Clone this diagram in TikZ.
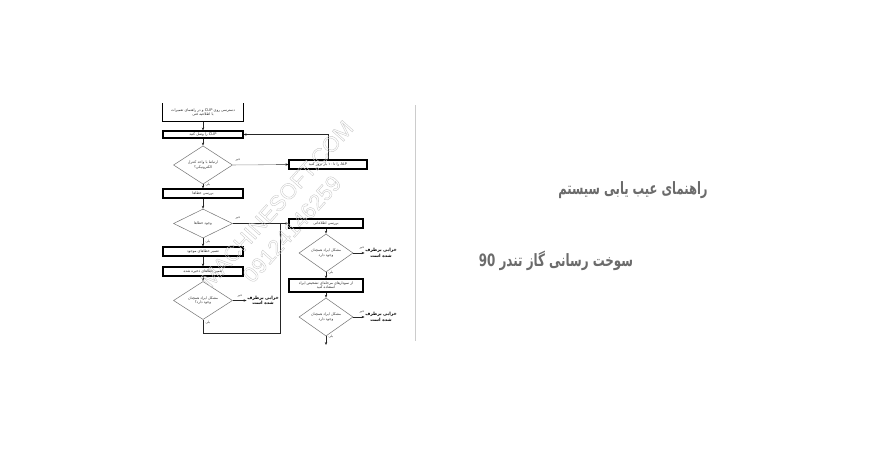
\documentclass[tikz,border=0pt]{standalone}
\usepackage{graphicx}
\usepackage{fontspec}
\setmainfont{Liberation Sans}
\newfontfamily\fa[Script=Arabic]{DejaVu Sans}
\newfontfamily\wm{Liberation Sans}
\TeXXeTstate=1
\usetikzlibrary{arrows.meta,shapes.geometric}
\newcommand{\fat}[1]{{\fa\beginR #1\endR}}
\newcommand{\outl}[1]{\special{pdf:literal direct 1 Tr 0.35 w}#1\special{pdf:literal direct 0 Tr}}
\begin{document}
\begin{tikzpicture}[x=1pt,y=-1pt,
  box/.style={draw=black, line width=1.1pt, fill=white, inner sep=0pt, font=\fa\fontsize{3.6}{4.4}\selectfont, text=black!85, align=center},
  dia/.style={draw=black!55, line width=0.5pt, shape=diamond, inner sep=0pt, fill=white, font=\fa\fontsize{3.6}{4.6}\selectfont, text=black!80, align=center},
  con/.style={draw=black!85, line width=0.55pt},
  arr/.style={con, -{Stealth[length=3pt,width=2.4pt]}},
  lab/.style={font=\fa\fontsize{3.2}{4}\selectfont, text=black!80, inner sep=0.5pt},
  fixed/.style={font=\fa\bfseries\fontsize{4.4}{5.4}\selectfont, align=center, inner sep=0.5pt},
  title/.style={font=\fa\bfseries\fontsize{17}{20}\selectfont, text=black!58, inner sep=0pt},
  wmark/.style={font=\wm\fontsize{22}{22}\selectfont, text=black!22, inner sep=0pt, rotate=48}
]
\useasboundingbox (0,0) rectangle (870,450);
\fill[white] (0,0) rectangle (870,450);

% left column
\node[box, draw=none, fill=none, minimum width=80, minimum height=17] (b1) at (203,112.5) {\fat{دسترسی روی \beginL CLIP\endL{} و در راهنمای تعمیرات}\\\fat{با اطلاعیه فنی}};
\draw[line width=1.1pt] (b1.north west) -- (b1.south west) -- (b1.south east) -- (b1.north east);
\node[box, minimum width=80, minimum height=7] (b2) at (203,134.5) {\fat{\beginL CLIP\endL{} را وصل کنید}};
\node[dia, minimum width=59, minimum height=31] (d1) at (203,165) {\fat{ارتباط با واحد کنترل}\\\fat{الکترونیکی؟}};
\node[box, minimum width=78, minimum height=9] (alp) at (328,164.5) {\fat{\beginL ALP\endL{} را تا ۱۰ بار بروز کنید}};
\node[box, minimum width=80, minimum height=9] (b3) at (203,193.5) {\fat{بررسی خطاها}};
\node[dia, minimum width=59, minimum height=29] (d2) at (203,223.5) {\fat{وجود خطاها}};
\node[box, minimum width=74, minimum height=9] (r1) at (326,223.5) {\fat{بررسی اطلاعاتی}};
\node[box, minimum width=80, minimum height=9] (b4) at (203,251.5) {\fat{تعمیر خطاهای موجود}};
\node[box, minimum width=80, minimum height=9] (b5) at (203,271.5) {\fat{تعمیر خطاهای ذخیره شده}};
\node[dia, minimum width=59, minimum height=33] (d3) at (203,300.5) {\fat{مشکل ایراد همچنان}\\\fat{وجود دارد؟}};
\node[fixed] (f1) at (263,300.5) {\fat{خرابی برطرف}\\\fat{شده است}};

% right column
\node[dia, minimum width=54, minimum height=30] (dr1) at (326,253) {\fat{مشکل ایراد همچنان}\\\fat{وجود دارد}};
\node[fixed] (f2) at (381,253) {\fat{خرابی برطرف}\\\fat{شده است}};
\node[box, minimum width=74, minimum height=13] (r2) at (326,285.5) {\fat{از نمودارهای مرحله‌ای تشخیص ایراد}\\\fat{استفاده کنید}};
\node[dia, minimum width=54, minimum height=30] (dr2) at (326,317) {\fat{مشکل ایراد همچنان}\\\fat{وجود دارد}};
\node[fixed] (f3) at (381,317) {\fat{خرابی برطرف}\\\fat{شده است}};

\coordinate (endp) at (326,345);
\coordinate (lp1) at (203,333);
\coordinate (lp2) at (280,333);
\coordinate (lp3) at (280,223.5);

% connectors
\draw[arr] (b1.south) -- (b2.north);
\draw[arr] (b2.south) -- (d1.north);
\path (d1.east) -- (alp.west) coordinate[pos=0.78] (g1);
\draw[con, draw=black!40] (d1.east) -- (g1);
\draw[arr] (g1) -- (alp.west);
\draw[arr] (alp.north) |- (b2.east);
\draw[arr] (d1.south) -- (b3.north);
\draw[arr] (b3.south) -- (d2.north);
\draw[con] (d2.east) -- (lp3);
\draw[arr] (lp3) -- (r1.west);
\draw[arr] (d2.south) -- (b4.north);
\draw[arr] (b4.south) -- (b5.north);
\draw[arr] (b5.south) -- (d3.north);
\draw[arr] (d3.east) -- (f1.west);
\draw[con] (d3.south) -- (lp1) -- (lp2) -- (lp3);
\draw[arr] (r1.south) -- (dr1.north);
\draw[arr] (dr1.east) -- (f2.west);
\draw[arr] (dr1.south) -- (r2.north);
\draw[arr] (r2.south) -- (dr2.north);
\draw[arr] (dr2.east) -- (f3.west);
\draw[arr] (dr2.south) -- (endp);

% labels
\node[lab] (n1) at (238,160) {\fat{خیر}};
\node[lab] (y1) at (208,185) {\fat{بلی}};
\node[lab] (n2) at (238,218.5) {\fat{خیر}};
\node[lab] (y2) at (208,242) {\fat{بلی}};
\node[lab] (n3) at (240,296) {\fat{خیر}};
\node[lab] (y3) at (208,323) {\fat{بلی}};
\node[lab] (n4) at (362,248) {\fat{خیر}};
\node[lab] (y4) at (331,273) {\fat{بلی}};
\node[lab] (n5) at (362,312) {\fat{خیر}};
\node[lab] (y5) at (331,337) {\fat{بلی}};

% watermark
\node[wmark] (wm1) at (277,204) {\outl{MACHINESOFT.COM}};
\node[wmark] (wm2) at (292,229) {\outl{09124146259}};

% separator
\coordinate (s1) at (415,105);
\coordinate (s2) at (415,341);
\draw[black!20, line width=0.6pt] (s1) -- (s2);

% titles
\node[title] (t1) at (633,190) {\scalebox{0.68}[1]{\fat{راهنمای عیب یابی سیستم}}};
\node[title] (t2) at (556,261) {\scalebox{0.70}[1]{\fat{سوخت رسانی گاز تندر \beginL 90\endL}}};
\end{tikzpicture}
\end{document}
